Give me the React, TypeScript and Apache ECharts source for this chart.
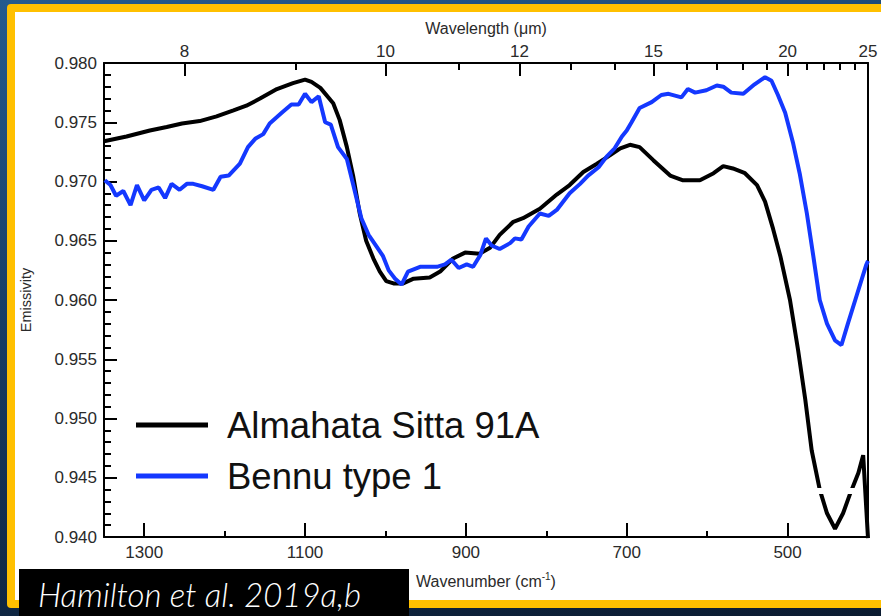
import React, { useEffect, useRef } from "react";
import * as echarts from "echarts";

// ---------- data ----------
const almahataWavenumber = [
  1350, 1322, 1293, 1272, 1253, 1231, 1210, 1189, 1173, 1156, 1135, 1115, 1100, 1092, 1081, 1065,
  1057, 1048, 1040, 1032, 1024, 1015, 1007, 999, 990, 978, 965, 945, 932, 916, 901, 883, 870, 858,
  841, 829, 808, 787, 771, 754, 737, 721, 708, 696, 684, 667, 646, 630, 609, 592, 580, 568, 553,
  538, 528, 518, 509, 497, 487, 478, 470, 460, 451, 441, 431, 422, 412, 406, 400,
];
const almahataEmissivity = [
  0.9734, 0.9738, 0.9743, 0.9746, 0.9749, 0.9751, 0.9755, 0.976, 0.9764, 0.977, 0.9778, 0.9783,
  0.9786, 0.9784, 0.9779, 0.9766, 0.9752, 0.9729, 0.9704, 0.9673, 0.965, 0.9635, 0.9624, 0.9616,
  0.9614, 0.9614, 0.9618, 0.9619, 0.9624, 0.9635, 0.964, 0.9639, 0.9644, 0.9655, 0.9666, 0.9669,
  0.9677, 0.9689, 0.9697, 0.9708, 0.9715, 0.9722, 0.9728, 0.9731, 0.9729, 0.9718, 0.9705, 0.9701,
  0.9701, 0.9707, 0.9713, 0.9711, 0.9707, 0.9697, 0.9683, 0.966, 0.9637, 0.96, 0.9558, 0.9516,
  0.9473, 0.944, 0.942, 0.9407, 0.942, 0.9437, 0.9454, 0.9469, 0.9399,
];
const bennuWavenumber = [
  1349, 1342, 1335, 1326, 1317, 1309, 1300, 1291, 1282, 1274, 1266, 1256, 1247, 1239, 1228, 1214,
  1205, 1195, 1181, 1171, 1162, 1152, 1144, 1129, 1117, 1108, 1100, 1092, 1083, 1075, 1068, 1059,
  1048, 1040, 1030, 1021, 1011, 1003, 996, 988, 980, 972, 957, 936, 926, 918, 909, 899, 891, 882,
  875, 868, 858, 845, 839, 831, 822, 808, 797, 787, 771, 758, 748, 735, 725, 715, 706, 700, 694,
  684, 669, 657, 648, 632, 624, 615, 601, 588, 580, 570, 555, 541, 528, 520, 512, 503, 493, 485,
  476, 468, 460, 451, 441, 433, 425, 414, 402, 400,
];
const bennuEmissivity = [
  0.9701, 0.9697, 0.9688, 0.9692, 0.968, 0.9697, 0.9684, 0.9693, 0.9695, 0.9686, 0.9698, 0.9693,
  0.9698, 0.9698, 0.9696, 0.9693, 0.9704, 0.9705, 0.9715, 0.9729, 0.9736, 0.974, 0.9749, 0.9758,
  0.9765, 0.9765, 0.9774, 0.9767, 0.9772, 0.975, 0.9748, 0.9729, 0.9719, 0.9697, 0.9669, 0.9655,
  0.9645, 0.9637, 0.9625, 0.9618, 0.9613, 0.9624, 0.9628, 0.9628, 0.963, 0.9634, 0.9627, 0.963,
  0.9628, 0.9638, 0.9652, 0.9646, 0.9643, 0.9648, 0.9652, 0.9651, 0.9662, 0.9673, 0.9671, 0.9676,
  0.969, 0.9698, 0.9705, 0.9712, 0.9721, 0.9728, 0.9738, 0.9743, 0.975, 0.9762, 0.9767, 0.9773,
  0.9774, 0.9771, 0.9778, 0.9775, 0.9777, 0.9781, 0.978, 0.9775, 0.9774, 0.9782, 0.9788, 0.9785,
  0.9773, 0.9758, 0.9732, 0.9707, 0.9673, 0.9637, 0.96, 0.958, 0.9566, 0.9562, 0.958, 0.9604,
  0.963, 0.9633,
];

const wavenumberMajorTicks = [1300, 1100, 900, 700, 500];
const wavenumberMinorTicks = [1200, 1000, 800, 600];
const wavelengthMajorTicks = [8, 10, 12, 15, 20, 25];
const wavelengthMinorTicks = [9, 11, 13, 14, 16, 17, 18, 19, 21, 22, 23, 24];

const seriesNames = ["Almahata Sitta 91A", "Bennu type 1"];
const seriesColors = ["#000000", "#1438ff"];

const X_MIN = 400;
const X_MAX = 1350;
const Y_MIN = 0.94;
const Y_MAX = 0.98;
const Y_STEP = 0.005;

const SANS = "'Liberation Sans', Arial, sans-serif";

const zip = (a: number[], b: number[]) => a.map((v, i) => [v, b[i]]);
const toWn = (um: number) => 10000 / um;

export default function App() {
  const ref = useRef<HTMLDivElement>(null);

  useEffect(() => {
    if (!ref.current) return;
    const chart = echarts.init(ref.current, null, { renderer: "svg" });

    const axisLine = { show: true, lineStyle: { color: "#000", width: 2 } };
    const labelStyle = { fontFamily: SANS, fontSize: 17, color: "#2a2a2a" };

    const baseX = { type: "value", min: X_MIN, max: X_MAX, inverse: true, splitLine: { show: false } };

    chart.setOption({
      animation: false,
      backgroundColor: "transparent",
      grid: { left: 104, top: 63, width: 764, height: 474 },
      legend: {
        orient: "vertical",
        left: 131,
        top: 400,
        icon: "rect",
        itemWidth: 72,
        itemHeight: 5,
        itemGap: 11,
        data: seriesNames,
        textStyle: {
          fontFamily: SANS,
          fontSize: 36.5,
          color: "#111",
          lineHeight: 40,
          padding: [0, 0, 0, 14],
        },
      },
      xAxis: [
        {
          ...baseX,
          position: "bottom",
          axisLine,
          axisTick: {
            show: true,
            inside: true,
            length: 14,
            customValues: wavenumberMajorTicks,
            lineStyle: { color: "#000", width: 2 },
          },
          axisLabel: {
            ...labelStyle,
            margin: 7,
            customValues: wavenumberMajorTicks,
            formatter: (v: number) => String(Math.round(v)),
          },
          name: "{a|Wavenumber (cm}{s|-1}{a|)}",
          nameLocation: "middle",
          nameGap: 34,
          nameTextStyle: {
            rich: {
              a: { fontFamily: SANS, fontSize: 16, color: "#2a2a2a", lineHeight: 20 },
              s: { fontFamily: SANS, fontSize: 10, color: "#2a2a2a", verticalAlign: "top", lineHeight: 20 },
            },
          },
        },
        {
          ...baseX,
          position: "bottom",
          axisLine: { show: false },
          axisTick: {
            show: true,
            inside: true,
            length: 6,
            customValues: wavenumberMinorTicks,
            lineStyle: { color: "#000", width: 2 },
          },
          axisLabel: { show: false },
        },
        {
          ...baseX,
          position: "top",
          axisLine,
          axisTick: {
            show: true,
            inside: true,
            length: 13,
            customValues: wavelengthMajorTicks.map(toWn),
            lineStyle: { color: "#000", width: 2 },
          },
          axisLabel: {
            ...labelStyle,
            margin: 3,
            customValues: wavelengthMajorTicks.map(toWn),
            formatter: (v: number) => String(Math.round(10000 / v)),
          },
          name: "Wavelength (μm)",
          nameLocation: "middle",
          nameGap: 27,
          nameTextStyle: { fontFamily: SANS, fontSize: 16, color: "#2a2a2a" },
        },
        {
          ...baseX,
          position: "top",
          axisLine: { show: false },
          axisTick: {
            show: true,
            inside: true,
            length: 7,
            customValues: wavelengthMinorTicks.map(toWn),
            lineStyle: { color: "#000", width: 2 },
          },
          axisLabel: { show: false },
        },
      ],
      yAxis: [
        {
          type: "value",
          position: "left",
          min: Y_MIN,
          max: Y_MAX,
          interval: Y_STEP,
          axisLine,
          axisTick: { show: true, inside: true, length: 13, lineStyle: { color: "#000", width: 2 } },
          minorTick: { show: true, splitNumber: 5, length: 7, lineStyle: { color: "#000", width: 2 } },
          axisLabel: { ...labelStyle, margin: 7, formatter: (v: number) => v.toFixed(3) },
          splitLine: { show: false },
          minorSplitLine: { show: false },
          name: "Emissivity",
          nameLocation: "middle",
          nameGap: 71,
          nameTextStyle: { fontFamily: SANS, fontSize: 14.5, color: "#2a2a2a" },
        },
        {
          type: "value",
          position: "right",
          min: Y_MIN,
          max: Y_MAX,
          axisLine,
          axisTick: { show: false },
          axisLabel: { show: false },
          splitLine: { show: false },
        },
      ],
      series: [
        {
          name: seriesNames[0],
          type: "line",
          xAxisIndex: 0,
          yAxisIndex: 0,
          data: zip(almahataWavenumber, almahataEmissivity),
          showSymbol: false,
          symbol: "none",
          color: seriesColors[0],
          lineStyle: { color: seriesColors[0], width: 4 },
          clip: true,
          z: 3,
        },
        {
          name: seriesNames[1],
          type: "line",
          xAxisIndex: 0,
          yAxisIndex: 0,
          data: zip(bennuWavenumber, bennuEmissivity),
          showSymbol: false,
          symbol: "none",
          color: seriesColors[1],
          lineStyle: { color: seriesColors[1], width: 4 },
          clip: true,
          z: 4,
        },
      ],
      graphic: [
        {
          type: "rect",
          z: 100,
          shape: { x: 817, y: 488, width: 45, height: 6 },
          style: { fill: "#ffffff" },
        },
        {
          type: "rect",
          z: 101,
          shape: { x: 19, y: 569, width: 390, height: 47 },
          style: { fill: "#000000" },
        },
        {
          type: "text",
          z: 102,
          x: 38,
          y: 610,
          style: {
            text: "Hamilton et al. 2019a,b",
            fill: "#ffffff",
            font: "italic 300 33px Lato, 'Open Sans', sans-serif",
            textVerticalAlign: "bottom",
          },
        },
      ],
    });

    return () => chart.dispose();
  }, []);

  return (
    <div
      style={{
        position: "fixed",
        left: 0,
        top: 0,
        width: 881,
        height: 616,
        overflow: "hidden",
        background: "linear-gradient(170deg, #245a8e 0%, #163a62 45%, #0b1b30 100%)",
      }}
    >
      <div
        style={{
          position: "absolute",
          left: 7,
          top: 4,
          width: 900,
          height: 604,
          background: "#ffc000",
          borderRadius: 4,
        }}
      />
      <div
        style={{
          position: "absolute",
          left: 15,
          top: 12,
          width: 900,
          height: 588,
          background: "#ffffff",
        }}
      />
      <div ref={ref} style={{ position: "absolute", left: 0, top: 0, width: 881, height: 616 }} />
    </div>
  );
}
